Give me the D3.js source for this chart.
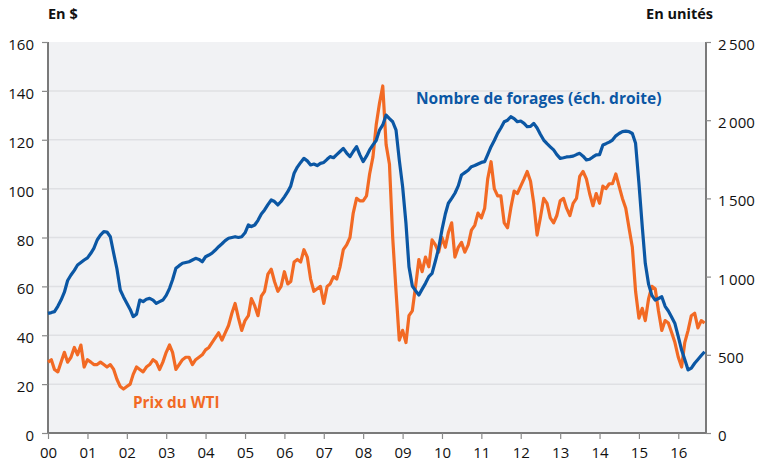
<!DOCTYPE html>
<html>
<head>
<meta charset="utf-8">
<script src="https://cdn.jsdelivr.net/npm/d3@7"></script>
<style>
  body { margin: 0; background: #fff; }
  text { font-family: "Open Sans", sans-serif; fill: #111; }
</style>
</head>
<body>
<div id="chart"></div>
<script>
// monthly values, Jan 2000 -> Sep 2016
var startYear = 2000;

// WTI price, $ (left axis)
var wti = [
  29, 30, 26, 25, 29, 33, 29, 31, 35, 32, 36, 27,          // 2000
  30, 29, 28, 28, 29, 28, 27, 28, 26, 22, 19, 18,          // 2001
  19, 20, 24, 27, 26, 25, 27, 28, 30, 29, 26, 29,          // 2002
  33, 36, 33, 26, 28, 30, 31, 31, 28, 30, 31, 32,          // 2003
  34, 35, 37, 39, 41, 38, 41, 44, 49, 53, 47, 42,          // 2004
  46, 48, 55, 52, 48, 56, 58, 65, 67, 62, 58, 60,          // 2005
  66, 61, 62, 70, 71, 70, 75, 72, 63, 58, 59, 60,          // 2006
  53, 60, 61, 64, 63, 68, 75, 77, 80, 90, 96, 95,          // 2007
  95, 97, 106, 113, 126, 135, 142, 118, 110, 80, 58, 38,   // 2008
  42, 37, 48, 50, 60, 71, 66, 72, 68, 79, 77, 74,          // 2009
  80, 76, 82, 86, 72, 76, 78, 74, 77, 83, 85, 90,          // 2010
  88, 92, 104, 111, 100, 97, 97, 86, 84, 92, 99, 98,       // 2011
  101, 104, 107, 103, 94, 81, 88, 96, 94, 88, 86, 89,      // 2012
  95, 96, 92, 89, 94, 96, 105, 107, 104, 98, 93, 98,       // 2013
  94, 101, 100, 102, 102, 106, 101, 96, 92, 84, 76, 58,    // 2014
  47, 51, 46, 55, 60, 59, 50, 42, 46, 45, 41, 37,          // 2015
  31, 27, 37, 42, 48, 49, 43, 46, 45                       // 2016
];

// number of rigs, units (right axis)
var rigs = [
  765, 770, 776, 810, 850, 900, 975, 1010, 1040, 1074, 1090, 1106,
  1120, 1149, 1180, 1234, 1265, 1287, 1285, 1255, 1149, 1050, 914, 870,
  829, 790, 744, 760, 850, 840, 855, 861, 850, 829, 840, 850,
  880, 925, 980, 1053, 1070, 1085, 1090, 1095, 1106, 1117, 1110, 1095,
  1127, 1138, 1150, 1170, 1191, 1210, 1230, 1245, 1250, 1255, 1250, 1255,
  1280, 1330, 1320, 1330, 1360, 1400, 1426, 1460, 1490, 1480, 1458, 1480,
  1510, 1543, 1580, 1661, 1700, 1730, 1756, 1740, 1714, 1720, 1710, 1724,
  1730, 1750, 1767, 1760, 1780, 1800, 1820, 1790, 1767, 1800, 1831, 1780,
  1735, 1770, 1810, 1842, 1870, 1937, 1970, 2033, 2010, 1990, 1937, 1746,
  1575, 1341, 1063, 940, 910, 882, 920, 957, 1000, 1021, 1100, 1180,
  1300, 1400, 1469, 1500, 1533, 1580, 1650, 1665, 1680, 1703, 1710, 1720,
  1730, 1735, 1780, 1831, 1870, 1916, 1950, 1990, 2000, 2022, 2010, 1990,
  1995, 1980, 1958, 1960, 1980, 1950, 1910, 1873, 1850, 1830, 1810, 1780,
  1756, 1760, 1765, 1767, 1770, 1780, 1788, 1770, 1746, 1750, 1765, 1778,
  1780, 1842, 1850, 1860, 1873, 1900, 1915, 1927, 1930, 1927, 1915, 1852,
  1597, 1319, 1085, 950, 880, 850, 860, 871, 810, 780, 740, 700,
  616, 530, 470, 403, 415, 446, 470, 495, 520
];

var yearLabels = ["00","01","02","03","04","05","06","07","08","09","10","11","12","13","14","15","16"];
var leftTicks = [0, 20, 40, 60, 80, 100, 120, 140, 160];
var rightTicks = [0, 500, 1000, 1500, 2000, 2500];

var width = 759, height = 463;
var margin = {top: 42, right: 53, bottom: 30, left: 48};

var svg = d3.select("#chart").append("svg")
    .attr("width", width)
    .attr("height", height);

var x = d3.scaleTime()
    .domain([new Date(2000, 0, 1), new Date(2016, 8, 14)])
    .range([margin.left, width - margin.right]);

var yL = d3.scaleLinear().domain([0, 160]).range([height - margin.bottom, margin.top]);
var yR = d3.scaleLinear().domain([0, 2500]).range([height - margin.bottom, margin.top]);

function dateOf(i) { return new Date(startYear, i, 1); }

// plot background
svg.append("rect")
    .attr("x", margin.left).attr("y", margin.top)
    .attr("width", x.range()[1] - x.range()[0])
    .attr("height", yL(0) - yL(160))
    .attr("fill", "#f1f2f4");

// gridlines
svg.append("g").selectAll("line")
    .data(leftTicks.filter(function(d) { return d > 0 && d < 160; }))
    .enter().append("line")
    .attr("x1", x.range()[0]).attr("x2", x.range()[1])
    .attr("y1", function(d) { return yL(d); })
    .attr("y2", function(d) { return yL(d); })
    .attr("stroke", "#dfe0e3")
    .attr("stroke-width", 1.5);

// left axis
var axL = svg.append("g")
    .attr("transform", "translate(" + margin.left + ",0)")
    .call(d3.axisLeft(yL).tickValues(leftTicks).tickSize(6).tickPadding(8));
// right axis
var axR = svg.append("g")
    .attr("transform", "translate(" + (width - margin.right) + ",0)")
    .call(d3.axisRight(yR).tickValues(rightTicks).tickSize(5).tickPadding(7)
        .tickFormat(function(d) { return d >= 1000 ? d3.format(",")(d).replace(",", "\u2009") : d; }));
// bottom axis
var yearTicks = d3.range(2000, 2017).map(function(y) { return new Date(y, 0, 1); });
var axB = svg.append("g")
    .attr("transform", "translate(0," + (height - margin.bottom) + ")")
    .call(d3.axisBottom(x).tickValues(yearTicks).tickSize(6).tickPadding(8)
        .tickFormat(function(d, i) { return yearLabels[i]; }));

[axL, axR, axB].forEach(function(ax) {
    ax.select(".domain").attr("stroke", "#7a7a7a").attr("stroke-width", 2);
    ax.selectAll(".tick line").attr("stroke", "#8a8a8a").attr("stroke-width", 1.2);
    ax.selectAll(".tick text")
        .style("font-family", "'Open Sans', sans-serif")
        .style("font-size", "15px")
        .attr("fill", "#111");
});
axL.select(".domain").attr("d", "M0," + yL(160) + "V" + yL(0));
axR.select(".domain").attr("d", "M0," + yL(160) + "V" + yL(0));
axB.select(".domain").attr("d", "M" + x.range()[0] + ",0H" + x.range()[1]);
axL.selectAll(".tick text").attr("dy", "0.5em");
axR.selectAll(".tick text").attr("dy", "0.5em");

// lines
var lineWti = d3.line()
    .x(function(d, i) { return x(dateOf(i)); })
    .y(function(d) { return yL(d); });
var lineRigs = d3.line()
    .x(function(d, i) { return x(dateOf(i)); })
    .y(function(d) { return yR(d); });

svg.append("path")
    .datum(wti)
    .attr("d", lineWti)
    .attr("fill", "none")
    .attr("stroke", "#f26a24")
    .attr("stroke-width", 3.2)
    .attr("stroke-linejoin", "round");

svg.append("path")
    .datum(rigs)
    .attr("d", lineRigs)
    .attr("fill", "none")
    .attr("stroke", "#0b57a4")
    .attr("stroke-width", 3.2)
    .attr("stroke-linejoin", "round");

// labels
svg.append("text")
    .attr("x", 48).attr("y", 19)
    .style("font-weight", "bold").style("font-size", "14.5px")
    .text("En $");
svg.append("text")
    .attr("x", 713).attr("y", 19)
    .attr("text-anchor", "end")
    .style("font-weight", "bold").style("font-size", "14.5px")
    .text("En unités");
svg.append("text")
    .attr("x", 416).attr("y", 104)
    .style("font-weight", "bold").style("font-size", "15.5px")
    .style("fill", "#0b57a4")
    .text("Nombre de forages (éch. droite)");
svg.append("text")
    .attr("x", 133).attr("y", 408)
    .style("font-weight", "bold").style("font-size", "15.3px")
    .style("fill", "#f26a24")
    .text("Prix du WTI");
</script>
</body>
</html>
